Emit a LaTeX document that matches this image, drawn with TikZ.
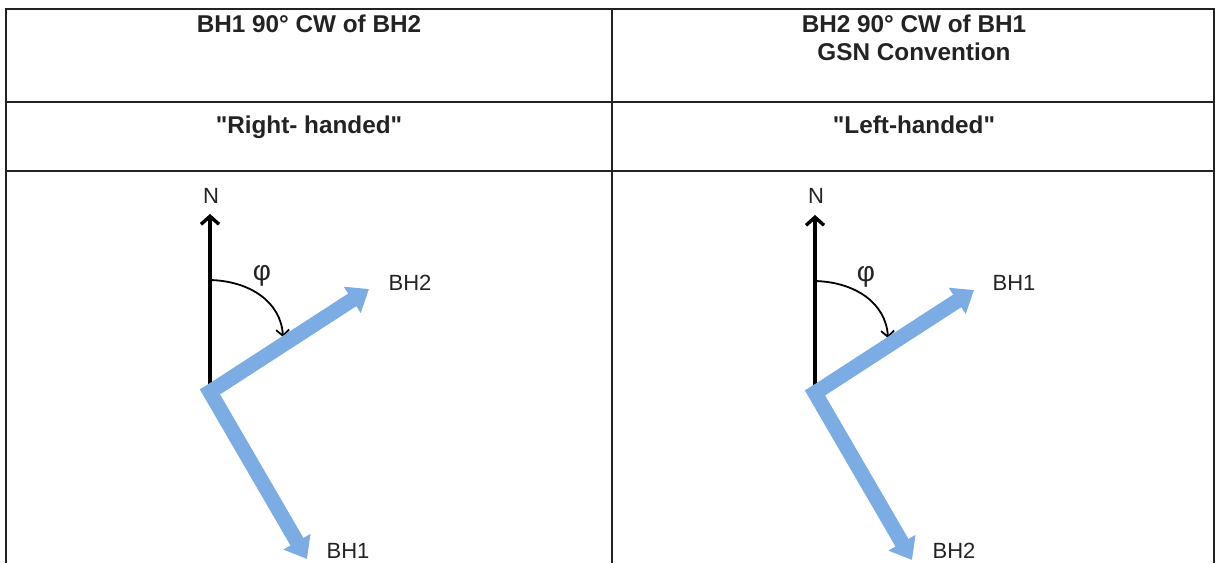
\documentclass[tikz,border=0pt]{standalone}
\usepackage{fontspec}
\newfontfamily\arialfont{Liberation Sans}
\usetikzlibrary{arrows.meta}
\definecolor{bluearrow}{RGB}{124,172,228}
\definecolor{inkgrey}{RGB}{35,35,35}
\begin{document}
\begin{tikzpicture}[x=1pt,y=-1pt,
  grid/.style={line width=2.6pt, inkgrey},
  head/.style={font=\arialfont\fontsize{24.3}{28}\selectfont\bfseries, text=inkgrey, anchor=base, align=center, inner sep=0pt},
  lbl/.style={font=\arialfont\fontsize{22}{24}\selectfont, text=inkgrey, inner sep=0pt},
  philbl/.style={font=\arialfont\fontsize{28}{30}\selectfont, text=inkgrey, inner sep=0pt},
  northarrow/.style={line width=3.4pt, -{Straight Barb[length=8pt,width=18pt,line width=3.4pt]}},
  barrow/.style={bluearrow, line width=15pt, -{Triangle[length=20pt,width=30pt]}},
  anglearrow/.style={line width=1.8pt, -{Straight Barb[length=6pt,width=13pt,line width=1.8pt]}}]
\useasboundingbox (0,0) rectangle (1216,563);

% table
\coordinate (tl) at (6,9);
\coordinate (tr) at (1214,9);
\coordinate (bl) at (6,563);
\coordinate (br) at (1214,563);
\coordinate (tm) at (612,9);
\coordinate (bm) at (612,563);
\coordinate (r1l) at (6,102);
\coordinate (r1r) at (1214,102);
\coordinate (r2l) at (6,171);
\coordinate (r2r) at (1214,171);
\draw[grid] (bl) -- (tl) -- (tr) -- (br);
\draw[grid] (tm) -- (bm);
\draw[grid] (r1l) -- (r1r);
\draw[grid] (r2l) -- (r2r);

% headers
\node[head] (h1) at (309,32) {BH1 90° CW of BH2};
\node[head] (h2) at (914,60) {BH2 90° CW of BH1\\GSN Convention};
\node[head] (s1) at (309,133) {"Right- handed"};
\node[head] (s2) at (914,133) {"Left-handed"};

% left diagram
\coordinate (oL) at (210,392);
\coordinate (nbL) at (210,384);
\coordinate (ntL) at (210,214);
\coordinate (aL) at (369,289);
\coordinate (bL) at (307,559);
\coordinate (arcsL) at (210,280);
\coordinate (arceL) at (283,337);
\draw[northarrow] (nbL) -- (ntL);
\draw[anglearrow] (arcsL) .. controls (250,281) and (281,302) .. (arceL);
\draw[barrow] (oL) -- (aL);
\draw[barrow, line cap=rect] (oL) -- (bL);
\node[lbl] (nL) at (211,196) {N};
\node[philbl] (phiL) at (262,276) {φ};
\node[lbl] (bh2L) at (410,283) {BH2};
\node[lbl] (bh1L) at (348,551) {BH1};

% right diagram
\coordinate (oR) at (815,393);
\coordinate (nbR) at (815,385);
\coordinate (ntR) at (815,215);
\coordinate (aR) at (974,290);
\coordinate (bR) at (912,560);
\coordinate (arcsR) at (815,281);
\coordinate (arceR) at (888,338);
\draw[northarrow] (nbR) -- (ntR);
\draw[anglearrow] (arcsR) .. controls (855,282) and (886,303) .. (arceR);
\draw[barrow] (oR) -- (aR);
\draw[barrow, line cap=rect] (oR) -- (bR);
\node[lbl] (nR) at (816,196) {N};
\node[philbl] (phiR) at (866,277) {φ};
\node[lbl] (bh1R) at (1014,283) {BH1};
\node[lbl] (bh2R) at (954,551) {BH2};
\end{tikzpicture}
\end{document}
